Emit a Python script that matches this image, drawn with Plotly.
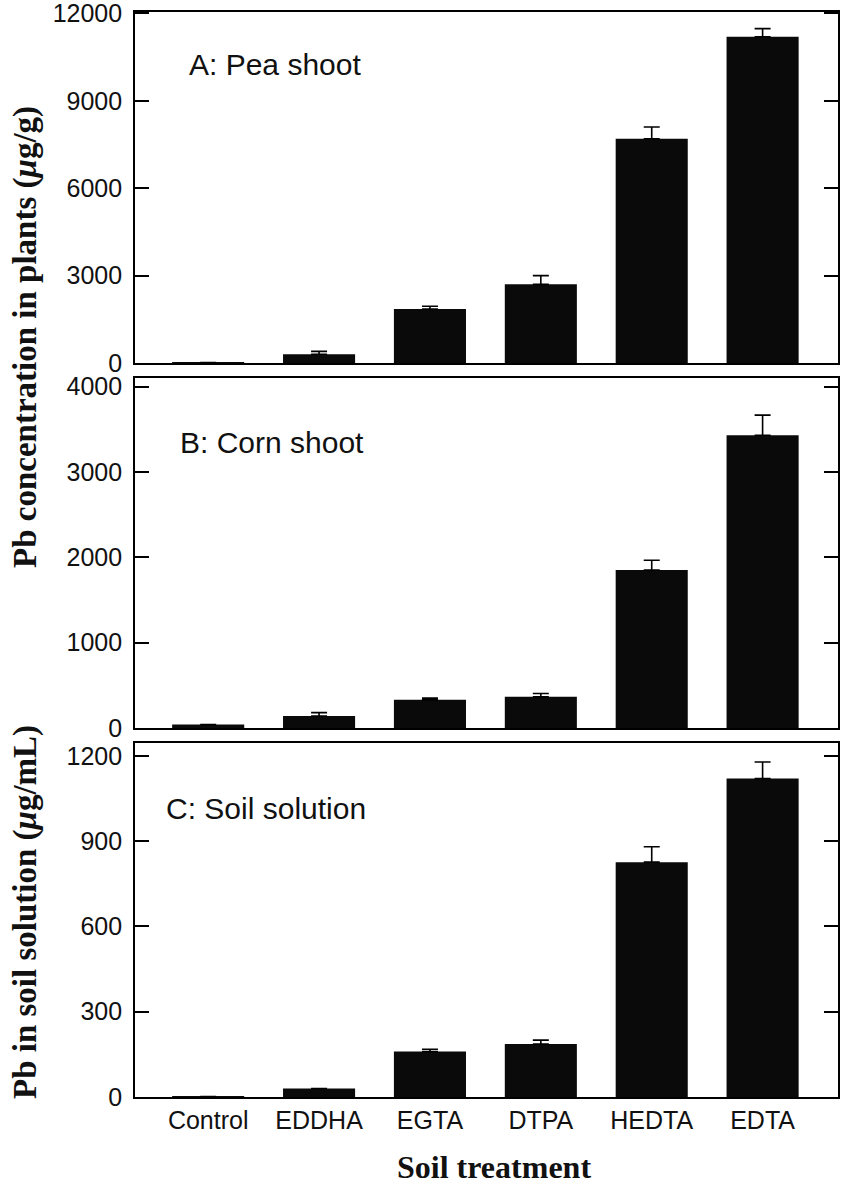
import plotly.graph_objects as go

categories = ["Control", "EDDHA", "EGTA", "DTPA", "HEDTA", "EDTA"]

pea_shoot = [15, 300, 1850, 2700, 7700, 11200]
pea_err = [0, 100, 100, 300, 400, 280]

corn_shoot = [40, 140, 330, 365, 1850, 3430]
corn_err = [0, 40, 20, 40, 115, 235]

soil_solution = [2, 30, 160, 186, 826, 1120]
soil_err = [0, 0, 8, 14, 54, 58]

panel_labels = ["A: Pea shoot", "B: Corn shoot", "C: Soil solution"]
y_ticks_a = [0, 3000, 6000, 9000, 12000]
y_ticks_b = [0, 1000, 2000, 3000, 4000]
y_ticks_c = [0, 300, 600, 900, 1200]

W, H = 841, 1184
ML, MR, MT, MB = 135, 3, 12, 87
plot_h = H - MT - MB

def dom(top_px, bot_px):
    return [(H - MB - bot_px) / plot_h, (H - MB - top_px) / plot_h]

fig = go.Figure()
series = [(pea_shoot, pea_err, "x", "y"), (corn_shoot, corn_err, "x2", "y2"), (soil_solution, soil_err, "x3", "y3")]
for vals, err, xa, ya in series:
    fig.add_trace(go.Bar(
        x=categories, y=vals, xaxis=xa, yaxis=ya,
        marker=dict(color="#0a0a0a", line=dict(width=0)),
        width=0.65,
        error_y=dict(type="data", symmetric=False, array=err, arrayminus=[0]*len(err),
                     color="black", thickness=1.6, width=8),
        showlegend=False,
    ))

tickfont = dict(family="Liberation Sans, Arial, sans-serif", size=25, color="#111")
common_x = dict(type="category", range=[-0.66, 5.68], showline=True, linewidth=1.6, linecolor="black",
                mirror=True, ticks="", showgrid=False, zeroline=False, automargin=False,
                tickfont=dict(family="Liberation Sans, Arial, sans-serif", size=25, color="#111"))
common_y = dict(showline=True, linewidth=1.6, linecolor="black", mirror="ticks", ticks="inside",
                ticklen=14, tickwidth=1.6, tickcolor="black", showgrid=False, zeroline=False,
                tickfont=tickfont, ticklabelstandoff=6, ticklabeloverflow="allow",
                automargin=False, tickformat="d")

fig.update_layout(
    width=W, height=H,
    margin=dict(l=ML, r=MR, t=MT, b=MB, autoexpand=False),
    paper_bgcolor="white", plot_bgcolor="white",
    bargap=0.35,
    xaxis=dict(**common_x, domain=[0, 1], anchor="y", showticklabels=False),
    xaxis2=dict(**common_x, domain=[0, 1], anchor="y2", showticklabels=False),
    xaxis3=dict(**common_x, domain=[0, 1], anchor="y3", showticklabels=True),
    yaxis=dict(**common_y, domain=dom(12, 363), range=[0, 12050], tickvals=y_ticks_a, anchor="x"),
    yaxis2=dict(**common_y, domain=dom(378, 728), range=[0, 4100], tickvals=y_ticks_b, anchor="x2"),
    yaxis3=dict(**common_y, domain=dom(743, 1097), range=[0, 1245], tickvals=y_ticks_c, anchor="x3"),
)

label_pos = [(187, 65), (178, 443), (164, 808)]
for txt, (px, py) in zip(panel_labels, label_pos):
    fig.add_annotation(text=txt, xref="paper", yref="paper",
                       x=(px - ML) / (W - ML - MR), y=(H - MB - py) / plot_h,
                       xanchor="left", yanchor="middle", showarrow=False,
                       font=dict(family="Liberation Sans, Arial, sans-serif", size=30, color="#111"))

serif = dict(family="Liberation Serif, Times New Roman, serif", size=33, color="#111", weight="bold")
fig.add_annotation(text="Pb concentration in plants (<i>μ</i>g/g)", xref="paper", yref="paper",
                   x=(25 - ML) / (W - ML - MR), y=(H - MB - 337) / plot_h, textangle=-90,
                   xanchor="center", yanchor="middle", showarrow=False, font=serif)
fig.add_annotation(text="Pb in soil solution (<i>μ</i>g/mL)", xref="paper", yref="paper",
                   x=(25 - ML) / (W - ML - MR), y=(H - MB - 912) / plot_h, textangle=-90,
                   xanchor="center", yanchor="middle", showarrow=False, font=serif)
fig.add_annotation(text="Soil treatment", xref="paper", yref="paper",
                   x=(494 - ML) / (W - ML - MR), y=(H - MB - 1167) / plot_h,
                   xanchor="center", yanchor="middle", showarrow=False,
                   font=dict(family="Liberation Serif, Times New Roman, serif", size=32, color="#111", weight="bold"))

fig.write_html("out.html")
